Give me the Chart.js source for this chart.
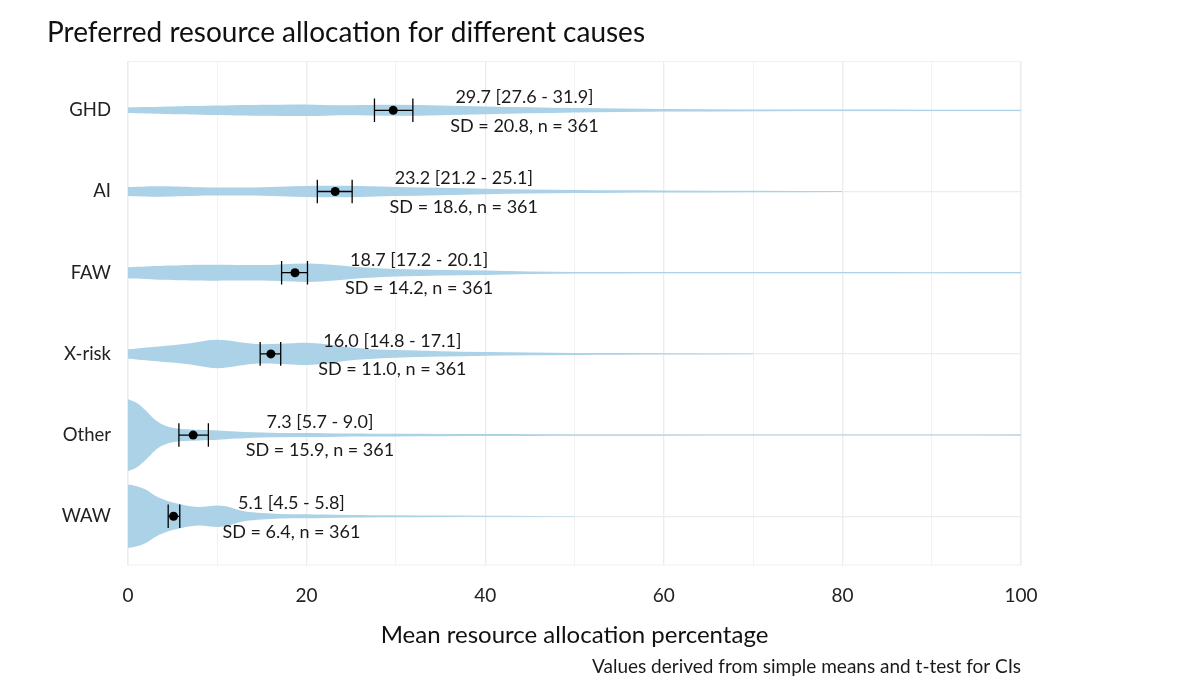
<!DOCTYPE html>
<html>
<head>
<meta charset="utf-8">
<script src="https://cdn.jsdelivr.net/npm/chart.js@4"></script>
<style>
  body { margin: 0; background: #fff; }
  #wrap { width: 1181px; height: 683px; }
</style>
</head>
<body>
<div id="wrap"><canvas id="chart"></canvas></div>
<script>
const categories = ['GHD', 'AI', 'FAW', 'X-risk', 'Other', 'WAW'];
const means = [29.7, 23.2, 18.7, 16.0, 7.3, 5.1];
const ciLow = [27.6, 21.2, 17.2, 14.8, 5.7, 4.5];
const ciHigh = [31.9, 25.1, 20.1, 17.1, 9.0, 5.8];
const sds = [20.8, 18.6, 14.2, 11.0, 15.9, 6.4];
const counts = [361, 361, 361, 361, 361, 361];
const xTicks = [0, 10, 20, 30, 40, 50, 60, 70, 80, 90, 100];

// violin half-widths (density) at these allocation values
const densityX = [0, 1, 2, 3, 4, 5, 6, 7, 8, 9, 10, 11, 12, 13, 15, 17, 20, 22, 25, 27, 30, 35, 40, 45, 50, 55, 60, 70, 80, 90, 100];
const ghdDensity = [2.8, 3.0, 3.2, 3.4, 3.6, 3.8, 4.0, 4.2, 4.4, 4.6, 4.7, 4.9, 5.1, 5.2, 5.5, 5.6, 5.7, 5.3, 5.0, 5.2, 5.5, 4.8, 3.8, 3.0, 2.2, 1.7, 1.3, 0.9, 0.7, 0.6, 0.6];
const aiDensity = [4.5, 4.8, 5.1, 5.3, 5.2, 5.0, 4.8, 4.6, 4.3, 4.1, 4.0, 3.9, 3.9, 4.0, 4.2, 4.8, 5.5, 5.8, 5.8, 5.3, 4.6, 3.7, 2.7, 2.0, 1.5, 1.2, 1.0, 0.7, 0.4, null, null];
const fawDensity = [5.5, 5.9, 6.3, 6.7, 7.0, 7.2, 7.5, 7.7, 7.9, 8.0, 8.0, 7.9, 7.8, 7.7, 7.7, 8.3, 9.2, 8.5, 6.3, 5.0, 3.8, 2.8, 2.2, 1.2, 0.8, 0.7, 0.6, 0.6, 0.6, 0.5, 0.6];
const xriskDensity = [4.7, 5.5, 6.3, 7.2, 8.0, 8.7, 9.5, 10.5, 12.0, 13.5, 14.2, 13.5, 12.3, 11.0, 9.7, 10.0, 11.0, 9.8, 6.3, 5.0, 3.8, 2.7, 1.8, 1.3, 1.0, 0.8, 0.7, 0.4, null, null, null];
const otherDensity = [35.8, 32.0, 24.5, 15.5, 10.0, 7.2, 6.2, 5.7, 5.3, 5.0, 4.7, 4.1, 3.5, 3.1, 2.5, 2.2, 2.0, 1.8, 1.5, 1.4, 1.3, 1.1, 1.0, 0.8, 0.7, 0.6, 0.6, 0.5, 0.5, 0.5, 0.7];
const wawDensity = [31.7, 30.0, 26.7, 20.8, 16.7, 13.7, 11.7, 10.0, 9.3, 10.0, 10.7, 10.0, 7.3, 5.0, 3.3, 2.3, 2.0, 1.7, 1.3, 1.1, 1.0, 0.7, 0.5, 0.4, 0.3, null, null, null, null, null, null];
const densities = [ghdDensity, aiDensity, fawDensity, xriskDensity, otherDensity, wawDensity];

const VIOLIN_SCALE = 1 / 81;
const VIOLIN_COLOR = 'rgb(171,210,231)';
const CAP = 0.145;
const FONT = 'Lato, "Noto Sans", sans-serif';

const datasets = [];
densities.forEach((d, i) => {
  const pts = [];
  densityX.forEach((x, k) => { if (d[k] != null) pts.push({ x: x, w: d[k] }); });
  datasets.push({
    data: pts.map(p => ({ x: p.x, y: i - p.w * VIOLIN_SCALE })),
    borderWidth: 0, pointRadius: 0, fill: false, order: 10,
    cubicInterpolationMode: 'monotone', borderColor: 'rgba(0,0,0,0)'
  });
  datasets.push({
    data: pts.map(p => ({ x: p.x, y: i + p.w * VIOLIN_SCALE })),
    borderWidth: 0, pointRadius: 0, fill: '-1', order: 10,
    backgroundColor: VIOLIN_COLOR, borderColor: 'rgba(0,0,0,0)',
    cubicInterpolationMode: 'monotone'
  });
});

const barStyle = { borderColor: '#000', borderWidth: 1.3, pointRadius: 0, fill: false, tension: 0, order: 2 };
categories.forEach((c, i) => {
  datasets.push(Object.assign({ data: [{ x: ciLow[i], y: i }, { x: ciHigh[i], y: i }] }, barStyle));
  datasets.push(Object.assign({ data: [{ x: ciLow[i], y: i - CAP }, { x: ciLow[i], y: i + CAP }] }, barStyle));
  datasets.push(Object.assign({ data: [{ x: ciHigh[i], y: i - CAP }, { x: ciHigh[i], y: i + CAP }] }, barStyle));
});

datasets.push({
  data: means.map((m, i) => ({ x: m, y: i })),
  showLine: false, pointRadius: 4.5, pointBackgroundColor: '#000',
  pointBorderColor: '#000', pointBorderWidth: 0, order: 1
});

const labelPlugin = {
  id: 'labels',
  beforeDraw(chart) {
    const { ctx, chartArea } = chart;
    ctx.save();
    ctx.strokeStyle = '#f0f0f0';
    ctx.lineWidth = 1;
    ctx.strokeRect(chartArea.left, chartArea.top, chartArea.right - chartArea.left, chartArea.bottom - chartArea.top);
    ctx.restore();
  },
  afterDatasetsDraw(chart) {
    const { ctx, chartArea } = chart;
    const xs = chart.scales.x, ys = chart.scales.y;
    ctx.save();
    ctx.fillStyle = '#1a1a1a';
    ctx.font = '18px ' + FONT;
    ctx.textAlign = 'center';
    ctx.textBaseline = 'middle';
    categories.forEach((c, i) => {
      const px = xs.getPixelForValue(ciHigh[i] + 12.5);
      ctx.fillText(means[i].toFixed(1) + ' [' + ciLow[i].toFixed(1) + ' - ' + ciHigh[i].toFixed(1) + ']', px, ys.getPixelForValue(i - 0.16));
      ctx.fillText('SD = ' + sds[i].toFixed(1) + ', n = ' + counts[i], px, ys.getPixelForValue(i + 0.19));
    });
    ctx.font = '19px ' + FONT;
    ctx.textAlign = 'right';
    ctx.fillText('Values derived from simple means and t-test for CIs', chartArea.right, 667);
    ctx.restore();
  }
};

new Chart(document.getElementById('chart'), {
  type: 'line',
  data: { datasets: datasets },
  plugins: [labelPlugin],
  options: {
    responsive: true,
    maintainAspectRatio: false,
    animation: false,
    layout: { padding: { left: 47, right: 160, top: 0, bottom: 33 } },
    plugins: {
      legend: { display: false },
      tooltip: { enabled: false },
      title: {
        display: true, align: 'start',
        text: 'Preferred resource allocation for different causes',
        color: '#111', font: { family: FONT, size: 28, weight: 'normal' },
        padding: { top: 16, bottom: 12 }
      }
    },
    scales: {
      x: {
        type: 'linear', min: 0, max: 100,
        afterBuildTicks: s => { s.ticks = xTicks.map(v => ({ value: v })); },
        afterFit: s => { s.height = 85; },
        border: { display: false },
        grid: {
          drawTicks: false,
          color: '#ececec',
          lineWidth: c => (c.tick.value % 20 === 0 ? 1.3 : 0.7)
        },
        ticks: {
          padding: 19, color: '#222', font: { family: FONT, size: 19 },
          callback: v => (v % 20 === 0 ? v : '')
        },
        title: {
          display: true, text: 'Mean resource allocation percentage',
          color: '#111', font: { family: FONT, size: 24 }, padding: { top: 0, bottom: 0 }
        }
      },
      y: {
        type: 'linear', reverse: true, min: -0.6, max: 5.6,
        afterBuildTicks: s => { s.ticks = categories.map((c, i) => ({ value: i })); },
        afterFit: s => { s.width = 81; },
        border: { display: false },
        grid: { drawTicks: false, color: '#ececec', lineWidth: 1.3 },
        ticks: {
          padding: 17, color: '#222', font: { family: FONT, size: 18.5 },
          callback: v => categories[v]
        }
      }
    }
  }
});
</script>
</body>
</html>
